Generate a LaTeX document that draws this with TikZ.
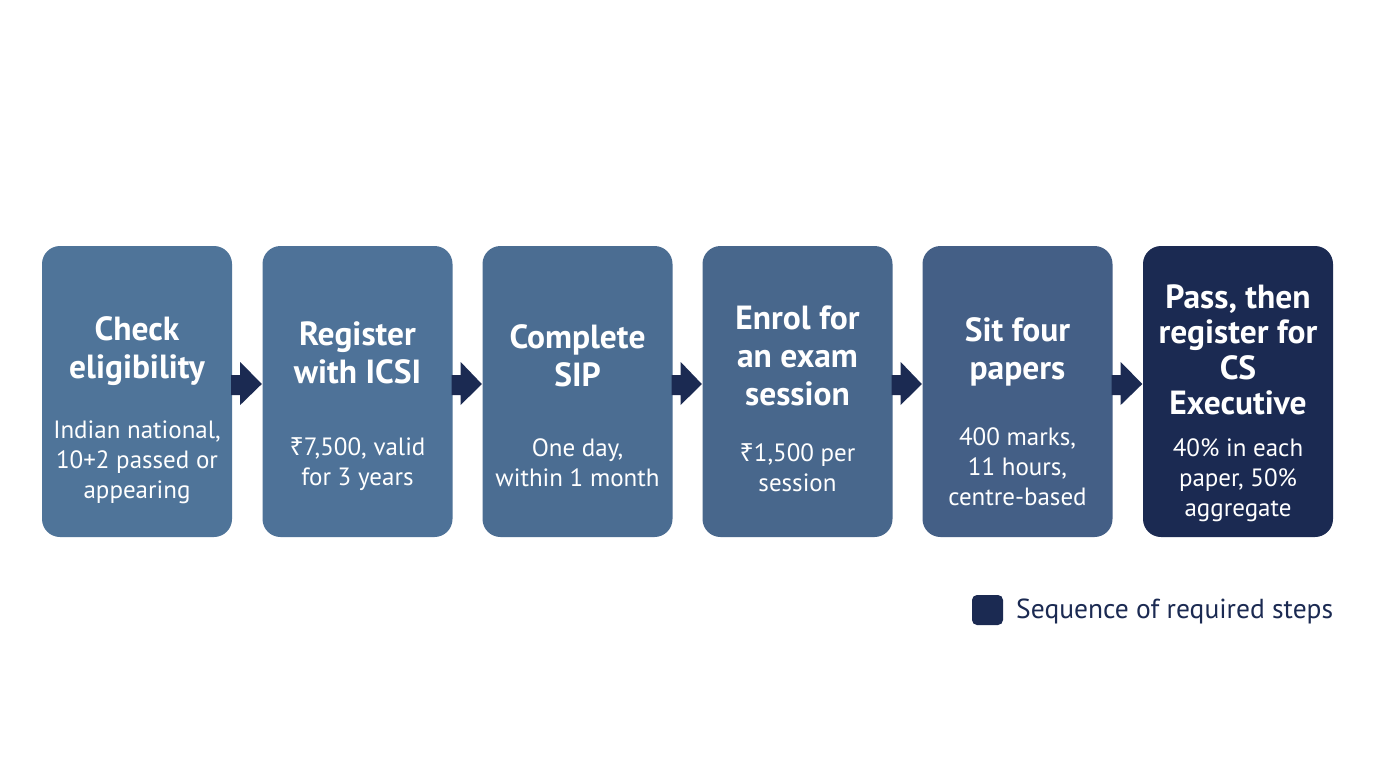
\documentclass[tikz,border=0pt]{standalone}
\usepackage{fontspec}
\usetikzlibrary{calc}
\setmainfont{PT Sans}
\newfontfamily\rupeefont{Noto Sans}
\newcommand{\Rs}{{\rupeefont ₹}}
\definecolor{navy}{HTML}{1B2A52}
\definecolor{bA}{HTML}{4F7499}
\definecolor{bB}{HTML}{4E7298}
\definecolor{bC}{HTML}{4B6D92}
\definecolor{bD}{HTML}{48678C}
\definecolor{bE}{HTML}{445F86}
\begin{document}
\begin{tikzpicture}[x=1pt,y=-1pt,
  stepbox/.style={rounded corners=18pt, minimum width=190pt, minimum height=291pt, inner sep=0pt, draw=none},
  ttl/.style={text=white, font=\fontsize{33.5}{38}\selectfont\bfseries, align=center},
  bdy/.style={text=white, font=\fontsize{25}{30}\selectfont, align=center},
  flowarrow/.style={fill=navy, draw=none}
]
\useasboundingbox (0,0) rectangle (1376,768);
\fill[white] (0,0) rectangle (1376,768);

\node[stepbox, fill=bA] (s1) at (137,391.5) {};
\node[stepbox, fill=bB] (s2) at (357.5,391.5) {};
\node[stepbox, fill=bC] (s3) at (577.5,391.5) {};
\node[stepbox, fill=bD] (s4) at (797.5,391.5) {};
\node[stepbox, fill=bE] (s5) at (1017.5,391.5) {};
\node[stepbox, fill=navy] (s6) at (1238,391.5) {};

\node[ttl] (t1) at (137,351) {Check\\eligibility};
\node[bdy] (d1) at (137,462) {Indian national,\\10+2 passed or\\appearing};
\node[ttl] (t2) at (357.5,352.5) {Register\\with ICSI};
\node[bdy] (d2) at (357.5,464) {\Rs7,500, valid\\for 3 years};
\node[ttl] (t3) at (577.5,355.5) {Complete\\SIP};
\node[bdy] (d3) at (577.5,463) {One day,\\within 1 month};
\node[ttl] (t4) at (797.5,356) {Enrol for\\an exam\\session};
\node[bdy] (d4) at (797.5,468) {\Rs1,500 per\\session};
\node[ttl] (t5) at (1017.5,352) {Sit four\\papers};
\node[bdy] (d5) at (1017.5,467) {400 marks,\\11 hours,\\centre-based};
\node[ttl, font=\fontsize{33.5}{35.5}\selectfont\bfseries] (t6) at (1238,350) {Pass, then\\register for\\CS\\Executive};
\node[bdy] (d6) at (1238,480) {40\% in each\\paper, 50\%\\aggregate};

\foreach \a/\b in {s1/s2,s2/s3,s3/s4,s4/s5,s5/s6}{
  \fill[flowarrow] ($(\a.east)+(-1,-16.5)$) -- ($(\a.east)+(8,-16.5)$) -- ($(\a.east)+(8,-29.5)$)
     -- ($(\b.west)+(-0.5,-7.5)$) -- ($(\a.east)+(8,13.5)$) -- ($(\a.east)+(8,3.5)$) -- ($(\a.east)+(-1,3.5)$) -- cycle;
}

\node[fill=navy, rounded corners=5pt, minimum width=31pt, minimum height=30pt, inner sep=0pt] (lg) at (987.5,610) {};
\node[anchor=west, text=navy, font=\fontsize{27.5}{30}\selectfont, inner sep=0pt] (lt) at (1016,611) {Sequence of required steps};
\end{tikzpicture}
\end{document}
